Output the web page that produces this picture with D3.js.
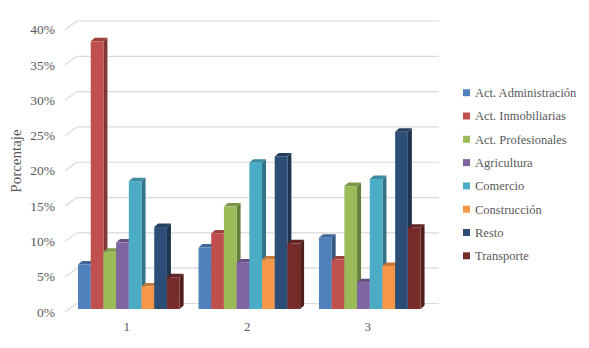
<!DOCTYPE html>
<html><head><meta charset="utf-8">
<script src="https://cdn.jsdelivr.net/npm/d3@7"></script>
<style>body{margin:0;background:#fff}svg{display:block}</style>
</head><body>
<svg id="c" width="589" height="348"></svg>
<script>
const categories = ["1","2","3"];
const seriesNames = ["Act. Administración","Act. Inmobiliarias","Act. Profesionales","Agricultura","Comercio","Construcción","Resto","Transporte"];
const seriesColors = ["#4F81BD","#C0504D","#9BBB59","#8064A2","#4BACC6","#F79646","#2C4D75","#772C2A"];
const values = [
  [0.063, 0.087, 0.101],
  [0.379, 0.107, 0.070],
  [0.081, 0.145, 0.174],
  [0.094, 0.066, 0.038],
  [0.181, 0.207, 0.184],
  [0.032, 0.070, 0.061],
  [0.116, 0.216, 0.251],
  [0.045, 0.093, 0.115]
];
const yTicks = [0,0.05,0.10,0.15,0.20,0.25,0.30,0.35,0.40];
const yTitle = "Porcentaje";

const svg = d3.select("#c");
const font = "'Liberation Serif', serif";
const y = d3.scaleLinear().domain([0,0.4]).range([303.5,21]); // back wall
const wallX0 = 77, wallX1 = 439;
const frontDx = -12, frontDy = 8.5;
const barDy = 5.5;
const x0 = d3.scaleBand().domain(categories).range([68.6,430]).paddingInner(0).paddingOuter(0);
const groupW = 101.6;
const x1 = d3.scaleBand().domain(seriesNames).range([0,groupW]);
const depthX = 4, depthY = -3.5;

svg.append("g").selectAll("line").data(yTicks).join("line")
  .attr("x1",wallX0).attr("x2",wallX1)
  .attr("y1",d=>y(d)).attr("y2",d=>y(d))
  .attr("stroke","#d9d9d9").attr("stroke-width",1.2);
svg.append("g").selectAll("line").data(yTicks).join("line")
  .attr("x1",wallX0+frontDx).attr("x2",wallX0)
  .attr("y1",d=>y(d)+frontDy).attr("y2",d=>y(d))
  .attr("stroke","#d9d9d9").attr("stroke-width",1.2);

svg.append("g").selectAll("text").data(yTicks).join("text")
  .attr("x",55).attr("y",d=>y(d)+frontDy)
  .attr("dy","0.35em").attr("text-anchor","end")
  .attr("font-family",font).attr("font-size",13.5).attr("fill","#595959")
  .text(d=>d3.format(".0%")(d));

svg.append("text").attr("transform","translate(16,161) rotate(-90)")
  .attr("text-anchor","middle").attr("dy","0.35em")
  .attr("font-family",font).attr("font-size",15).attr("fill","#595959")
  .text(yTitle);

svg.append("g").selectAll("text").data(categories).join("text")
  .attr("x",d=>x0(d)+x0.bandwidth()/2-2).attr("y",331)
  .attr("text-anchor","middle")
  .attr("font-family",font).attr("font-size",13).attr("fill","#595959")
  .text(d=>d);

const bars = [];
categories.forEach((c,ci)=>{
  seriesNames.forEach((s,si)=>{
    bars.push({c,s,si,v:values[si][ci]});
  });
});
const gBars = svg.append("g");
const base = y(0)+barDy;
bars.forEach(b=>{
  const xl = x0(b.c) + (x0.bandwidth()-groupW)/2 + x1(b.s);
  const w = x1.bandwidth();
  const top = y(b.v)+barDy;
  const col = d3.color(seriesColors[b.si]);
  const g = gBars.append("g");
  g.append("path").attr("d",`M${xl+w},${top}L${xl+w+depthX},${top+depthY}L${xl+w+depthX},${base+depthY}L${xl+w},${base}Z`)
    .attr("fill",col.darker(1.1).formatHex());
  g.append("path").attr("d",`M${xl},${top}L${xl+depthX},${top+depthY}L${xl+w+depthX},${top+depthY}L${xl+w},${top}Z`)
    .attr("fill",col.darker(0.6).formatHex());
  g.append("rect").attr("x",xl).attr("y",top).attr("width",w).attr("height",base-top)
    .attr("fill",col.formatHex());
});

const lg = svg.append("g");
seriesNames.forEach((s,i)=>{
  const cy = 92.7 + i*23.3;
  lg.append("rect").attr("x",463).attr("y",cy-3.5).attr("width",7).attr("height",7).attr("fill",seriesColors[i]);
  lg.append("text").attr("x",475).attr("y",cy).attr("dy","0.35em")
    .attr("font-family",font).attr("font-size",12.5).attr("fill","#595959").text(s);
});
</script>
</body></html>
